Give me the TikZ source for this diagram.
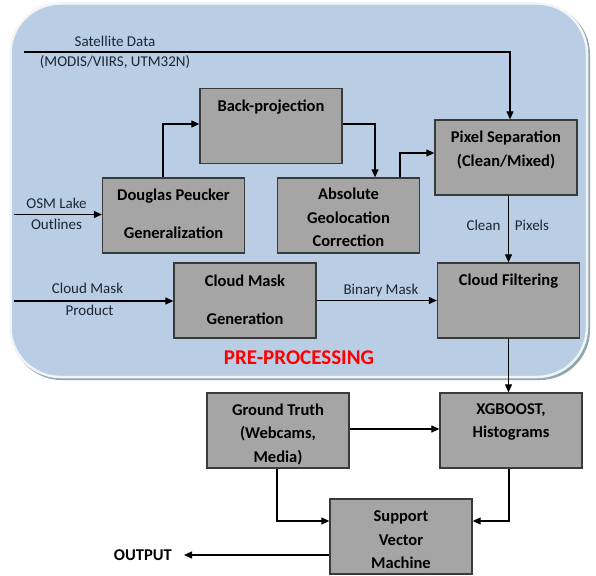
\documentclass[tikz,border=0pt]{standalone}
\usepackage{fontspec}
\setmainfont{Carlito}
\usetikzlibrary{arrows.meta}
\definecolor{bgblue}{HTML}{B9CDE5}
\definecolor{boxgray}{HTML}{A5A5A5}
\definecolor{boxline}{HTML}{3A3A3A}
\definecolor{shadowc}{HTML}{8EA9AE}
\definecolor{rimc}{HTML}{F2F4F5}
\definecolor{prered}{HTML}{FF0000}
\definecolor{labc}{HTML}{1F2530}
\begin{document}
\begin{tikzpicture}[x=1pt,y=-1pt,
  box/.style={draw=boxline, fill=boxgray, line width=1.3pt, minimum width=142pt, minimum height=75pt, inner sep=0pt},
  btxt/.style={font=\fontsize{16.5}{20}\selectfont\bfseries, anchor=base, inner sep=0pt},
  ltxt/.style={font=\fontsize{15}{18}\selectfont, text=labc, anchor=base, inner sep=0pt},
  arr/.style={-{Triangle[length=8pt,width=7pt]}, line width=1.2pt, black},
  ]
\useasboundingbox (0,0) rectangle (596,575);
% background panel
\fill[shadowc, rounded corners=50pt] (11.5,4.5) rectangle (590,380);
\draw[fill=bgblue, draw=rimc, line width=2.5pt, rounded corners=50pt] (10.5,3.5) rectangle (587,377);

% boxes
\node[box] (bp) at (271,126) {};
\node[box] (dp) at (173.5,215.5) {};
\node[box] (agc) at (348.5,215.5) {};
\node[box] (ps) at (506,157.5) {};
\node[box] (cf) at (508.5,300.5) {};
\node[box] (cm) at (245,300.5) {};
\node[box] (xg) at (511,430.5) {};
\node[box] (gt) at (278,430.5) {};
\node[box] (svm) at (401,536.5) {};

% box texts
\node[btxt] (bpt) at (271,111) {Back-projection};
\node[btxt] (dpt1) at (173.5,200) {Douglas Peucker};
\node[btxt] (dpt2) at (173.5,238) {Generalization};
\node[btxt] (agct1) at (348.5,199) {Absolute};
\node[btxt] (agct2) at (348.5,223) {Geolocation};
\node[btxt] (agct3) at (348.5,246) {Correction};
\node[btxt] (pst1) at (506,142.5) {Pixel Separation};
\node[btxt] (pst2) at (506,166) {(Clean/Mixed)};
\node[btxt] (cft) at (508.5,285) {Cloud Filtering};
\node[btxt] (cmt1) at (245,286) {Cloud Mask};
\node[btxt] (cmt2) at (245,324) {Generation};
\node[btxt] (xgt1) at (511,414) {XGBOOST,};
\node[btxt] (xgt2) at (511,437) {Histograms};
\node[btxt] (gtt1) at (278,415) {Ground Truth};
\node[btxt] (gtt2) at (278,438.5) {(Webcams,};
\node[btxt] (gtt3) at (278,462) {Media)};
\node[btxt] (svmt1) at (401,521) {Support};
\node[btxt] (svmt2) at (401,545) {Vector};
\node[btxt] (svmt3) at (401,568) {Machine};
\node[btxt, anchor=east] (out) at (172,555) {OUTPUT};
\node[btxt, font=\fontsize{21}{24}\selectfont\bfseries, text=prered] (pre) at (299,364) {PRE-PROCESSING};

% labels
\node[ltxt] (sat1) at (115,46.5) {Satellite Data};
\node[ltxt] (sat2) at (115,67) {(MODIS/VIIRS, UTM32N)};
\node[ltxt] (osm1) at (56.5,208) {OSM Lake};
\node[ltxt] (osm2) at (56.5,229) {Outlines};
\node[ltxt] (cmp1) at (87.5,293) {Cloud Mask};
\node[ltxt] (cmp2) at (89.5,315) {Product};
\node[ltxt] (bm) at (381,294) {Binary Mask};
\node[ltxt] (cl1) at (483.5,230.5) {Clean};
\node[ltxt] (cl2) at (532,230.5) {Pixels};

% connectors
\coordinate (sat) at (24,52);
\draw[arr] (sat) -| ([xshift=4pt]ps.north);
\draw[arr] ([xshift=-10.5pt]dp.north) |- ([yshift=2pt]bp.west);
\draw[arr] ([yshift=2pt]bp.east) -| ([xshift=26.5pt]agc.north);
\draw[arr] ([xshift=51.5pt]agc.north) |- ([yshift=4.5pt]ps.west);
\draw[arr] (cf.north |- ps.south) -- (cf.north);
\coordinate (osm) at (14,214.5);
\draw[arr] (osm) -- (osm -| dp.west);
\coordinate (cmp) at (14,301);
\draw[arr] (cmp) -- (cmp -| cm.west);
\draw[arr] (cm.east) -- (cf.west);
\draw[arr] (cf.south) -- (cf.south |- xg.north);
\draw[arr] ([yshift=1.5pt]gt.east) -- ([yshift=1.5pt]xg.west);
\draw[arr] ([xshift=-1pt]gt.south) |- ([yshift=15.5pt]svm.west);
\draw[arr] ([xshift=-2pt]xg.south) |- ([yshift=15.5pt]svm.east);
\draw[arr] (svm.west |- out.east) -- ([xshift=12pt]out.east);
\end{tikzpicture}
\end{document}
